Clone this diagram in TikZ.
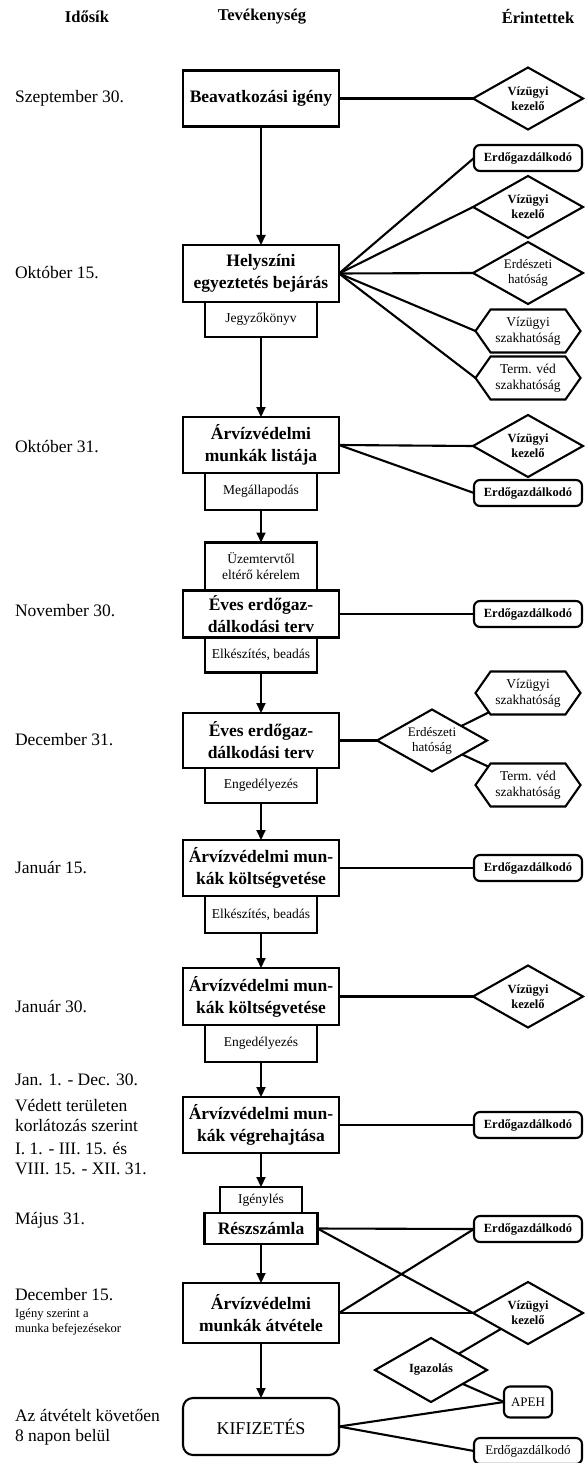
\documentclass[tikz,border=0pt]{standalone}
\usepackage{fontspec}
\setmainfont{Liberation Serif}
\usetikzlibrary{arrows.meta, positioning, shapes.geometric, shapes.symbols}

\begin{document}
\begin{tikzpicture}[
    x=1pt, y=-1pt,
    line width=2.1pt,
    >={Triangle[width=9pt,length=10pt]},
    head/.style={font=\fontsize{16.5}{19}\selectfont\bfseries},
    date/.style={anchor=west, align=left, inner sep=0pt, font=\fontsize{17.5}{20}\selectfont},
    block/.style={rectangle, draw, outer sep=0pt, minimum width=156pt, minimum height=56pt, inner sep=1.5pt, align=center, font=\fontsize{17.5}{22}\selectfont\bfseries},
    note/.style={rectangle, draw, outer sep=0pt, minimum width=112pt, minimum height=36pt, inner sep=2pt, align=center, font=\fontsize{13.5}{16}\selectfont},
    party/.style={rectangle, draw, rounded corners=6pt, outer sep=0pt, minimum width=108pt, minimum height=26pt, inner sep=2pt, font=\fontsize{13}{15}\selectfont},
    diam/.style={diamond, draw, aspect=1.77, outer sep=0pt, inner sep=0pt, minimum width=110pt, minimum height=62pt, align=center, font=\fontsize{13}{15}\selectfont},
    hexa/.style={signal, signal to=east and west, signal pointer angle=110, draw, outer sep=0pt, inner sep=1pt, minimum width=105pt, minimum height=43pt, align=center, font=\fontsize{13.5}{16}\selectfont},
    strong/.style={font=\fontsize{12.5}{15}\selectfont\bfseries}
]
\useasboundingbox (0,0) rectangle (585,1463);

% Headers
\node[head] (h-time) at (87,17) {Idősík};
\node[head] (h-act) at (262,17) {Tevékenység};
\node[head] (h-party) at (538,17) {Érintettek};

% Activities
\node[block] (req) at (261,98.5) {Beavatkozási igény};
\node[block, minimum height=57pt] (visit) at (261,273.5) {Helyszíni\\egyeztetés bejárás};
\node[note, below=0pt of visit, minimum height=35pt] (minutes) {Jegyzőkönyv};
\node[block] (list) at (261,445) {Árvízvédelmi\\munkák listája};
\node[note, below=0pt of list, minimum height=37pt] (agree) {Megállapodás};
\node[block, minimum height=47pt] (plan1) at (261,614) {Éves erdőgaz-\\dálkodási terv};
\node[note, above=0pt of plan1, minimum height=48pt] (deviate) {Üzemtervtől\\eltérő kérelem};
\node[note, below=0pt of plan1, minimum height=35pt] (submit1) {Elkészítés, beadás};
\node[block, minimum height=55pt] (plan2) at (261,740.5) {Éves erdőgaz-\\dálkodási terv};
\node[note, below=0pt of plan2, minimum height=35pt] (permit1) {Engedélyezés};
\node[block] (budget1) at (261,868) {Árvízvédelmi mun-\\kák költségvetése};
\node[note, below=0pt of budget1, minimum height=37pt] (submit2) {Elkészítés, beadás};
\node[block, minimum height=57pt] (budget2) at (261,996.5) {Árvízvédelmi mun-\\kák költségvetése};
\node[note, below=0pt of budget2, minimum height=37pt] (permit2) {Engedélyezés};
\node[block] (works) at (261,1125) {Árvízvédelmi mun-\\kák végrehajtása};
\node[block, minimum width=113pt, minimum height=31pt] (partial) at (261,1228.5) {Részszámla};
\node[note, above=0pt of partial, minimum width=82pt, minimum height=26pt] (claim) {Igénylés};
\node[block, minimum height=60pt] (accept) at (261,1313) {Árvízvédelmi\\munkák átvétele};
\node[block, rounded corners=10pt, minimum height=57pt, font=\fontsize{18}{22}\selectfont] (pay) at (261,1426.5) {KIFIZETÉS};

% Dates
\node[date] (d-sep) at (14,98) {Szeptember 30.};
\node[date] (d-oct15) at (14,273) {Október 15.};
\node[date] (d-oct31) at (14,447) {Október 31.};
\node[date] (d-nov) at (14,611) {November 30.};
\node[date] (d-dec31) at (14,740) {December 31.};
\node[date] (d-jan15) at (14,868) {Január 15.};
\node[date] (d-jan30) at (14,1007) {Január 30.};
\node[date] (d-year) at (14,1080) {Jan. 1. - Dec. 30.};
\node[date] (d-prot) at (14,1115.5) {Védett területen\\korlátozás szerint};
\node[date] (d-season) at (14,1159) {I. 1. - III. 15. és\\VIII. 15. - XII. 31.};
\node[date] (d-may) at (14,1220) {Május 31.};
\node[date] (d-dec15) at (14,1295) {December 15.};
\node[date, font=\fontsize{12.5}{15}\selectfont] (d-end) at (14,1321.5) {Igény szerint a\\munka befejezésekor};
\node[date] (d-pay) at (14,1427.5) {Az átvételt követően\\8 napon belül};

% Parties
\node[diam, strong] (wm1) at (528,98.5) {Vízügyi\\kezelő};
\node[party, strong] (fo1) at (528,158) {Erdőgazdálkodó};
\node[diam, strong] (wm2) at (528,207) {Vízügyi\\kezelő};
\node[diam] (fa1) at (528,273) {Erdészeti\\hatóság};
\node[hexa] (wa1) at (528,331) {Vízügyi\\szakhatóság};
\node[hexa] (na1) at (528,378) {Term. véd\\szakhatóság};
\node[diam, strong] (wm3) at (528,446) {Vízügyi\\kezelő};
\node[party, strong] (fo2) at (528,493) {Erdőgazdálkodó};
\node[party, strong] (fo3) at (528,614) {Erdőgazdálkodó};
\node[diam] (fa2) at (432,740.5) {Erdészeti\\hatóság};
\node[hexa] (wa2) at (528,693) {Vízügyi\\szakhatóság};
\node[hexa] (na2) at (528,785) {Term. véd\\szakhatóság};
\node[party, strong] (fo4) at (528,868) {Erdőgazdálkodó};
\node[diam, strong] (wm4) at (528,996.5) {Vízügyi\\kezelő};
\node[party, strong] (fo5) at (528,1125) {Erdőgazdálkodó};
\node[party, strong] (fo6) at (528,1229) {Erdőgazdálkodó};
\node[diam, strong] (wm5) at (528,1313) {Vízügyi\\kezelő};
\node[diam, strong, minimum width=112pt, minimum height=64pt] (cert) at (431,1370) {Igazolás};
\node[party, minimum width=48pt, minimum height=31pt] (tax) at (528,1402) {APEH};
\node[party] (fo7) at (528,1451) {Erdőgazdálkodó};

% Flow
\draw[->] (req) -- (visit);
\draw[->] (minutes) -- (list);
\draw[->] (agree) -- (deviate);
\draw[->] (submit1) -- (plan2);
\draw[->] (permit1) -- (budget1);
\draw[->] (submit2) -- (budget2);
\draw[->] (permit2) -- (works);
\draw[->] (works) -- (claim);
\draw[->] (partial) -- (accept);
\draw[->] (accept) -- (pay);

% Links to parties
\draw (req) -- (wm1);
\draw (visit.east) -- (fo1.west);
\draw (visit.east) -- (wm2.west);
\draw (visit.east) -- (fa1.west);
\draw (visit.east) -- (wa1.west);
\draw (visit.east) -- (na1.west);
\draw (list.east) -- (wm3.west);
\draw (list.east) -- (fo2.west);
\draw (plan1) -- (fo3);
\draw (plan2) -- (fa2);
\draw (fa2) -- (wa2);
\draw (fa2) -- (na2);
\draw (budget1) -- (fo4);
\draw (budget2) -- (wm4);
\draw (works) -- (fo5);
\draw (partial.east) -- (fo6.west);
\draw (partial.east) -- (wm5.west);
\draw (fo6.west) -- (accept.east);
\draw (accept) -- (wm5);
\draw (wm5) -- (cert);
\draw (cert) -- (tax.west);
\draw (pay.east) -- (tax.west);
\draw (pay.east) -- (fo7.west);
\end{tikzpicture}
\end{document}
